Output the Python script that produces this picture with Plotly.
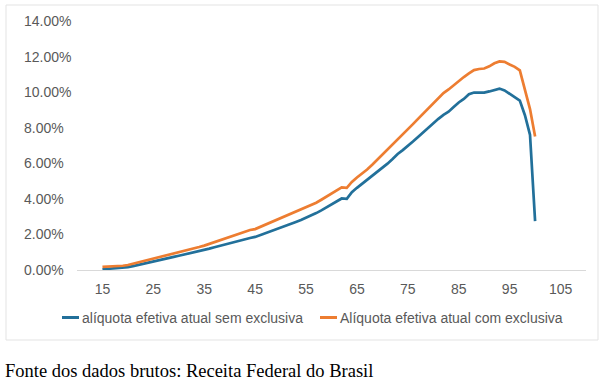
import plotly.graph_objects as go

# ---- data -------------------------------------------------------------
percentis = list(range(15, 101))

sem_exclusiva = [
    0.04, 0.06, 0.08, 0.10, 0.12, 0.16, 0.22, 0.29, 0.36, 0.43,   # 15-24
    0.50, 0.56, 0.62, 0.68, 0.74, 0.80, 0.86, 0.92, 0.98, 1.04,   # 25-34
    1.12, 1.20, 1.28, 1.36, 1.44, 1.52, 1.60, 1.68, 1.75, 1.80,   # 35-44
    1.86, 1.96, 2.08, 2.18, 2.28, 2.38, 2.48, 2.59, 2.70, 2.81,   # 45-54
    2.93, 3.06, 3.20, 3.35, 3.52, 3.68, 3.84, 4.02, 4.00, 4.38,   # 55-64
    4.62, 4.84, 5.05, 5.28, 5.50, 5.74, 5.98, 6.24, 6.52, 6.74,   # 65-74
    6.96, 7.22, 7.48, 7.74, 8.00, 8.25, 8.50, 8.72, 8.90, 9.16,   # 75-84
    9.42, 9.62, 9.88, 9.98, 9.96, 9.97, 10.04, 10.14, 10.20, 10.10,  # 85-94
    9.90, 9.74, 9.52, 8.70, 7.60, 2.75                            # 95-100
]

com_exclusiva = [
    0.18, 0.19, 0.20, 0.22, 0.24, 0.28, 0.35, 0.42, 0.50, 0.58,   # 15-24
    0.66, 0.73, 0.80, 0.87, 0.94, 1.01, 1.08, 1.15, 1.22, 1.29,   # 25-34
    1.37, 1.47, 1.57, 1.67, 1.77, 1.87, 1.97, 2.07, 2.17, 2.25,   # 35-44
    2.30, 2.42, 2.55, 2.68, 2.80, 2.92, 3.03, 3.14, 3.26, 3.38,   # 45-54
    3.50, 3.64, 3.78, 3.95, 4.12, 4.30, 4.48, 4.65, 4.62, 4.95,   # 55-64
    5.20, 5.42, 5.65, 5.92, 6.20, 6.48, 6.76, 7.04, 7.34, 7.62,   # 65-74
    7.90, 8.20, 8.50, 8.80, 9.08, 9.38, 9.68, 9.95, 10.15, 10.40,  # 75-84
    10.65, 10.85, 11.05, 11.24, 11.30, 11.33, 11.45, 11.62, 11.73, 11.70,  # 85-94
    11.55, 11.42, 11.22, 10.10, 9.05, 7.50                        # 95-100
]

series_names = [
    "alíquota efetiva atual sem exclusiva",
    "Alíquota efetiva atual com exclusiva",
]
series_colors = ["#22709A", "#ED7D31"]

x_ticks = [15, 25, 35, 45, 55, 65, 75, 85, 95, 105]
y_ticks = [0, 2, 4, 6, 8, 10, 12, 14]
y_tick_labels = ["0.00%", "2.00%", "4.00%", "6.00%", "8.00%", "10.00%", "12.00%", "14.00%"]

fonte = "Fonte dos dados brutos: Receita Federal do Brasil"

# ---- layout geometry (pixels) ----------------------------------------
W, H = 600, 382
ML, MR, MT, MB = 77, 14, 21, 112
PW = W - ML - MR
PH = H - MT - MB


def px_x(px):
    return (px - ML) / PW


def px_y(py):
    return (H - MB - py) / PH


fig = go.Figure()
for name, vals, col in zip(series_names, [sem_exclusiva, com_exclusiva], series_colors):
    fig.add_trace(go.Scatter(
        x=percentis, y=vals, mode="lines", name=name,
        line=dict(color=col, width=2.7), showlegend=False,
    ))

tick_font = dict(family="Liberation Sans, Arial, sans-serif", size=14, color="#595959")

fig.update_layout(
    width=W, height=H,
    margin=dict(l=ML, r=MR, t=MT, b=MB, pad=0),
    paper_bgcolor="white", plot_bgcolor="white",
    xaxis=dict(
        range=[10, 110], tickmode="array", tickvals=x_ticks,
        showgrid=False, zeroline=False, showline=True,
        linecolor="#D9D9D9", linewidth=1.2, ticks="",
        tickfont=tick_font, ticklabelstandoff=6,
    ),
    yaxis=dict(
        range=[0, 14], tickvals=y_ticks, showticklabels=False,
        showgrid=False, zeroline=False, showline=False,
    ),
)

annotations = []
for v, lab in zip(y_ticks, y_tick_labels):
    annotations.append(dict(
        x=px_x(22), xref="paper", y=v, yref="y", text=lab, showarrow=False,
        xanchor="left", yanchor="middle", font=tick_font,
    ))

shapes = [
    # chart frame
    dict(type="rect", xref="paper", yref="paper",
         x0=px_x(6), x1=px_x(598), y0=px_y(340), y1=px_y(5),
         line=dict(color="#E3E3E3", width=1), fillcolor="rgba(0,0,0,0)", layer="below"),
]

# manual legend
legend_y = px_y(317.5)
legend_starts = [62, 320]
for name, col, x0 in zip(series_names, series_colors, legend_starts):
    shapes.append(dict(type="line", xref="paper", yref="paper",
                       x0=px_x(x0), x1=px_x(x0 + 17), y0=legend_y, y1=legend_y,
                       line=dict(color=col, width=3)))
    annotations.append(dict(
        x=px_x(x0 + 18), xref="paper", y=legend_y, yref="paper", text=name,
        showarrow=False, xanchor="left", yanchor="middle", font=tick_font,
    ))

annotations.append(dict(
    x=px_x(3), xref="paper", y=px_y(371), yref="paper", text=fonte,
    showarrow=False, xanchor="left", yanchor="middle",
    font=dict(family="Liberation Serif, Times New Roman, serif", size=18.5, color="#000000"),
))

fig.update_layout(annotations=annotations, shapes=shapes)

fig.write_html(
    "out.html",
    config={"displayModeBar": False},
    post_script="document.body.style.margin='0';document.body.style.overflow='hidden';",
)
